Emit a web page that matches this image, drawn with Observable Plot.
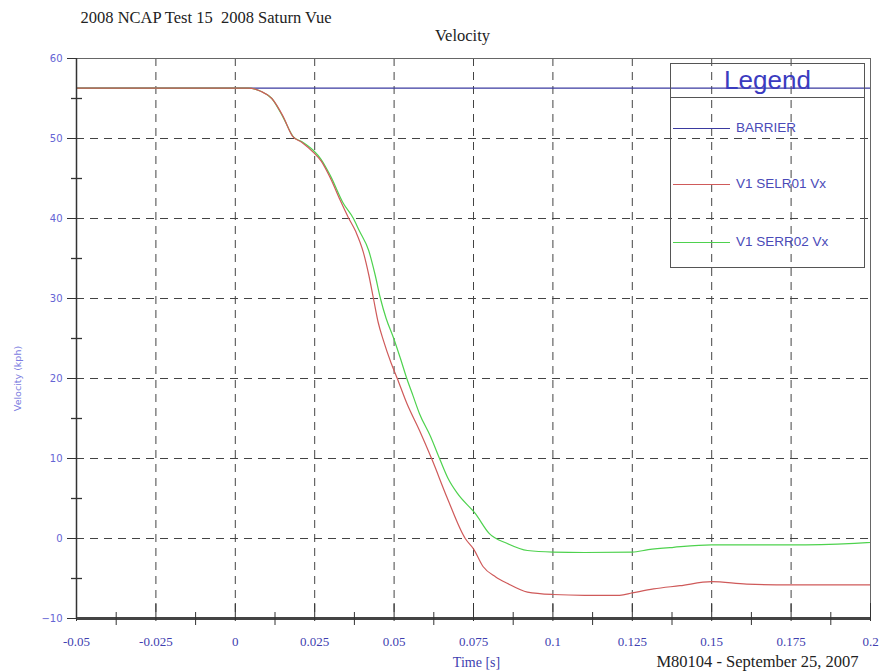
<!DOCTYPE html>
<html>
<head>
<meta charset="utf-8">
<script src="https://cdn.jsdelivr.net/npm/d3@7"></script>
<script src="https://cdn.jsdelivr.net/npm/@observablehq/plot@0.6"></script>
<style>
  body { margin: 0; background: #fff; }
  #wrap { position: relative; width: 883px; height: 671px; }
  #legend { position: absolute; left: 670px; top: 63px; width: 195px; height: 205px;
            border: 1.5px solid #555; box-sizing: border-box;
            font-family: "Liberation Sans", Arial, sans-serif; }
  #legend .head { height: 33px; border-bottom: 1.5px solid #555; text-align: center;
                  font-size: 26px; line-height: 32px; color: #3b3bbf; }
  #legend .entry { position: absolute; left: 2px; height: 18px; }
  #legend .sw { position: absolute; left: 0; top: 9px; width: 57px; height: 0; border-top: 1.2px solid; }
  #legend .lab { position: absolute; left: 63px; top: 0; line-height: 18px; font-size: 13.5px;
                 color: #4a4ab8; white-space: nowrap; }
</style>
</head>
<body>
<div id="wrap"></div>
<script>
// ---- Data ----
const mainTitle = "2008 NCAP Test 15  2008 Saturn Vue";
const chartTitle = "Velocity";
const xTitle = "Time [s]";
const yTitle = "Velocity (kph)";
const footer = "M80104 - September 25, 2007";

const seriesNames = ["BARRIER", "V1 SELR01 Vx", "V1 SERR02 Vx"];
const seriesColors = ["#3a3aa0", "#cf5a5a", "#4ed24e"];

const barrierTime = [-0.05, 0.2];
const barrierVel = [56.3, 56.3];

const selrTime = [-0.05, 0.004, 0.008, 0.0115, 0.015, 0.018, 0.021, 0.0245, 0.027, 0.030, 0.033, 0.0355,
  0.038, 0.0403, 0.042, 0.0435, 0.045, 0.0466, 0.049, 0.051, 0.054, 0.058, 0.062, 0.0667, 0.0724, 0.075,
  0.078, 0.082, 0.0856, 0.092, 0.1, 0.11, 0.121, 0.125, 0.1317, 0.14, 0.15, 0.161, 0.175, 0.2];
const selrVel = [56.3, 56.3, 55.9, 55.0, 52.8, 50.3, 49.5, 48.3, 47.2, 45.0, 42.3, 40.2,
  38.3, 35.8, 33.0, 30.0, 27.0, 24.8, 22.0, 20.0, 16.9, 13.5, 9.8, 5.1, 0.0, -1.3,
  -3.5, -4.8, -5.6, -6.7, -7.0, -7.1, -7.1, -6.8, -6.3, -5.9, -5.4, -5.7, -5.8, -5.8];

const serrTime = [-0.05, 0.004, 0.008, 0.0115, 0.015, 0.0183, 0.021, 0.0246, 0.027, 0.030, 0.034, 0.0372,
  0.039, 0.042, 0.044, 0.0457, 0.0475, 0.0498, 0.052, 0.054, 0.056, 0.058, 0.0614, 0.0645, 0.067, 0.070,
  0.0756, 0.080, 0.0855, 0.092, 0.1, 0.11, 0.125, 0.13, 0.138, 0.15, 0.175, 0.195, 0.2];
const serrVel = [56.3, 56.3, 55.9, 55.0, 52.7, 50.2, 49.6, 48.5, 47.4, 45.3, 41.9, 40.0,
  38.5, 36.0, 33.0, 30.0, 27.5, 25.1, 22.5, 20.0, 17.8, 15.6, 12.8, 9.8, 7.5, 5.6,
  3.1, 0.6, -0.6, -1.5, -1.7, -1.75, -1.7, -1.4, -1.1, -0.8, -0.8, -0.6, -0.5];

const xTicks = [-0.05, -0.025, 0, 0.025, 0.05, 0.075, 0.1, 0.125, 0.15, 0.175, 0.2];
const xTickLabels = ["-0.05", "-0.025", "0", "0.025", "0.05", "0.075", "0.1", "0.125", "0.15", "0.175", "0.2"];
const xGrid = [-0.025, 0, 0.025, 0.05, 0.075, 0.1, 0.125, 0.15, 0.175];
const xMinor = [-0.0375, -0.0125, 0.0125, 0.0375, 0.0625, 0.0875, 0.1125, 0.1375, 0.1625, 0.1875];
const yTicks = [-10, 0, 10, 20, 30, 40, 50, 60];
const yGrid = [0, 10, 20, 30, 40, 50];
const yMinor = [-5, 5, 15, 25, 35, 45, 55];

// ---- Build tables ----
const toRows = (ts, vs, name) => ts.map((t, i) => ({t, v: vs[i], name}));
const barrier = toRows(barrierTime, barrierVel, seriesNames[0]);
const selr = toRows(selrTime, selrVel, seriesNames[1]);
const serr = toRows(serrTime, serrVel, seriesNames[2]);
const xLabelMap = new Map(xTicks.map((t, i) => [t, xTickLabels[i]]));
const xMin = xTicks[0], xMax = xTicks[xTicks.length - 1];
const yMin = yTicks[0], yMax = yTicks[yTicks.length - 1];

const serif = "'Liberation Serif', 'Times New Roman', serif";
const sans = "'DejaVu Sans', Verdana, sans-serif";

const chart = Plot.plot({
  width: 883,
  height: 671,
  marginLeft: 76,
  marginRight: 13,
  marginTop: 58,
  marginBottom: 53,
  style: {background: "#fff", overflow: "visible"},
  x: {domain: [xMin, xMax]},
  y: {domain: [yMin, yMax]},
  marks: [
    Plot.ruleY(yGrid, {stroke: "#444", strokeWidth: 1, strokeDasharray: "8,6"}),
    Plot.ruleX(xGrid, {stroke: "#444", strokeWidth: 1, strokeDasharray: "8,6"}),
    Plot.line(barrier, {x: "t", y: "v", stroke: seriesColors[0], strokeWidth: 1.1}),
    Plot.line(serr, {x: "t", y: "v", stroke: seriesColors[2], strokeWidth: 1.2, curve: "monotone-x"}),
    Plot.line(selr, {x: "t", y: "v", stroke: seriesColors[1], strokeWidth: 1.2, curve: "monotone-x"}),
    Plot.frame({stroke: "#666", strokeWidth: 1}),
    Plot.ruleX([xMin], {stroke: "#333", strokeWidth: 1.5}),
    Plot.ruleY([yMin], {stroke: "#444", strokeWidth: 3}),
    // y axis
    Plot.axisY(yTicks, {tickSize: 9, tickPadding: 5, stroke: "#333", fill: "#6464d4",
      fontSize: 10, fontFamily: sans, label: null}),
    Plot.ruleY(yMinor, {x1: xMin, x2: xMin, insetLeft: -5, insetRight: -6, stroke: "#333", strokeWidth: 1.3}),
    // x axis
    Plot.axisX(xMinor, {tickSize: 13, dy: -6, stroke: "#333", tickFormat: () => "", label: null}),
    Plot.axisX(xTicks, {tickSize: 18, dy: -15, stroke: "#333", tickFormat: () => "", label: null}),
    Plot.axisX(xTicks, {tickSize: 0, tickPadding: 18, tickFormat: d => xLabelMap.get(d),
      fill: "#4040b0", fontSize: 13, fontFamily: serif, label: null}),
    // texts
    Plot.text([mainTitle], {text: d => d, frameAnchor: "top-left", dx: 4, dy: -36, lineAnchor: "bottom",
      textAnchor: "start", fontSize: 16.5, fontFamily: serif, fill: "#222"}),
    Plot.text([chartTitle], {text: d => d, frameAnchor: "top", dx: -11, dy: -18, lineAnchor: "bottom",
      textAnchor: "middle", fontSize: 16.5, fontFamily: serif, fill: "#222"}),
    Plot.text([yTitle], {text: d => d, frameAnchor: "left", dx: -59, dy: 40, rotate: -90,
      textAnchor: "middle", lineAnchor: "middle", fontSize: 9.5, fontFamily: sans, fill: "#7a7ae0"}),
    Plot.text([xTitle], {text: d => d, frameAnchor: "bottom", dx: 3, dy: 48, lineAnchor: "bottom",
      textAnchor: "middle", fontSize: 14, fontFamily: serif, fill: "#4040b0"}),
    Plot.text([footer], {text: d => d, frameAnchor: "bottom-right", dx: -12, dy: 48, lineAnchor: "bottom",
      textAnchor: "end", fontSize: 16.5, fontFamily: serif, fill: "#222"})
  ]
});

const wrap = document.getElementById("wrap");
wrap.appendChild(chart);

// ---- Legend (overlay, transparent so the grid shows through) ----
const legend = document.createElement("div");
legend.id = "legend";
const head = document.createElement("div");
head.className = "head";
head.textContent = "Legend";
legend.appendChild(head);
const entryTops = [55, 111, 169];
seriesNames.forEach((name, i) => {
  const e = document.createElement("div");
  e.className = "entry";
  e.style.top = entryTops[i] + "px";
  const sw = document.createElement("div");
  sw.className = "sw";
  sw.style.borderTopColor = seriesColors[i];
  const lab = document.createElement("div");
  lab.className = "lab";
  lab.textContent = name;
  e.appendChild(sw);
  e.appendChild(lab);
  legend.appendChild(e);
});
wrap.appendChild(legend);
</script>
</body>
</html>
